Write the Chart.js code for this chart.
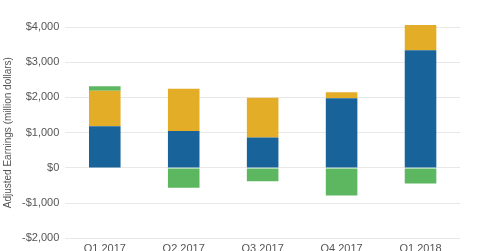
<!DOCTYPE html>
<html><head><meta charset="utf-8">
<script src="https://cdn.jsdelivr.net/npm/chart.js@4/dist/chart.umd.min.js"></script>
<style>html,body{margin:0;padding:0;background:#fff}#wrap{width:480px;height:251px}</style>
</head><body><div id="wrap"><canvas id="c"></canvas></div>
<script>
const categories = ["Q1 2017","Q2 2017","Q3 2017","Q4 2017","Q1 2018"];
const seriesBlue = [1180, 1046, 865, 1975, 3340];
const seriesYellow = [1010, 1200, 1125, 175, 720];
const seriesGreen = [130, -560, -375, -780, -445];
const yTicks = [-2000, -1000, 0, 1000, 2000, 3000, 4000];

Chart.defaults.font.family = "'Liberation Sans', Arial, sans-serif";
new Chart(document.getElementById('c'), {
  type: 'bar',
  data: {
    labels: categories,
    datasets: [
      {data: seriesBlue, backgroundColor: '#18649a', barPercentage: 0.4, categoryPercentage: 1, clip: false},
      {data: seriesYellow, backgroundColor: '#e4ad27', barPercentage: 0.4, categoryPercentage: 1, clip: false},
      {data: seriesGreen, backgroundColor: '#5db761', barPercentage: 0.4, categoryPercentage: 1, clip: false}
    ]
  },
  options: {
    responsive: true, maintainAspectRatio: false, animation: false,
    layout: {padding: {top: 27, right: 20, bottom: -1, left: 0}},
    plugins: {legend: {display: false}, tooltip: {enabled: false}},
    scales: {
      x: {stacked: true, grid: {display: false}, border: {display: false},
          ticks: {color: '#555', font: {size: 11, lineHeight: 1}, padding: -3}},
      y: {stacked: true, min: -2000, max: 4000,
          afterBuildTicks: a => { a.ticks = yTicks.map(v => ({value: v})); },
          grid: {color: '#e8e8e8', drawTicks: false}, border: {display: false},
          ticks: {color: '#555', font: {size: 11}, padding: 6,
                  callback: v => (v < 0 ? '-$' : '$') + Math.abs(v).toLocaleString('en-US')},
          title: {display: true, text: 'Adjusted Earnings (million dollars)', color: '#555', font: {size: 10}, padding: 2}}
    }
  }
});
</script></body></html>
